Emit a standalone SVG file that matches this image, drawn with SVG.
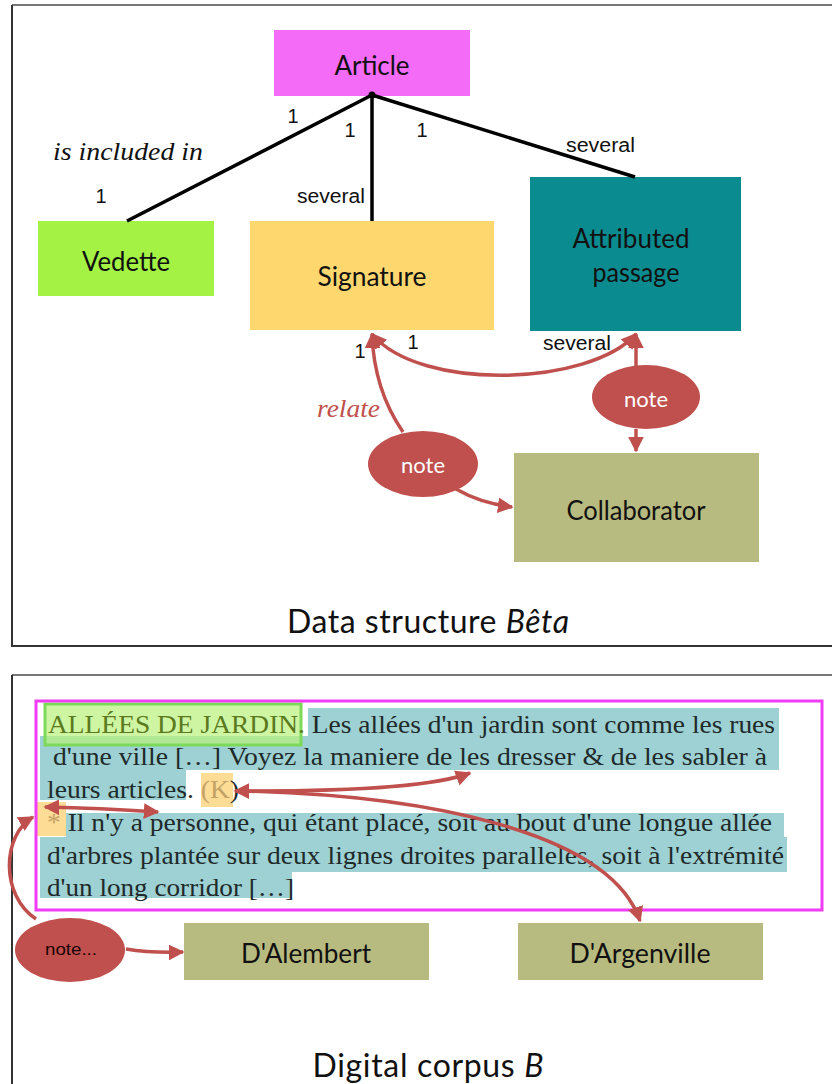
<svg xmlns="http://www.w3.org/2000/svg" width="832" height="1084" viewBox="0 0 832 1084">
<defs>
<marker id="ah" viewBox="0 0 10 10" refX="9" refY="5" markerWidth="4.5" markerHeight="4.5" orient="auto-start-reverse" markerUnits="strokeWidth">
<path d="M0,0 L10,5 L0,10 Z" fill="#c0504d"/>
</marker>
<style>
.frame{fill:none;stroke:#333;stroke-width:2}
.box{stroke:none}
.lbl{font-family:Lato,"Open Sans","Liberation Sans",sans-serif;font-size:26px;fill:#111;text-anchor:middle}
.sm{font-family:"Liberation Sans",Arial,sans-serif;font-size:20px;fill:#111}
.it{font-family:"Liberation Serif","Times New Roman",serif;font-style:italic;font-size:26px}
.blk{fill:none;stroke:#000;stroke-width:3.5}
.red{fill:none;stroke:#c0504d;stroke-width:3.5}
.note{fill:#c0504d}
.body{font-family:"Liberation Serif","Times New Roman",serif;font-size:25px;fill:#1f2a2a}
.teal{fill:#9dd1d3}
.org{fill:#fddc95}
.tan{fill:#c4a266}
.cap{font-family:Lato,"Open Sans","Liberation Sans",sans-serif;font-size:32px;fill:#111;text-anchor:middle}
</style>
</defs>
<rect width="832" height="1084" fill="#fff"/>

<!-- frames -->
<g id="frames">
<path d="M12,5 H832" stroke="#777" stroke-width="2"/>
<path d="M12,5 V646 H832" class="frame"/>
<path d="M12,675 H832" stroke="#777" stroke-width="2"/>
<path d="M12,675 V1084" class="frame"/>
</g>

<!-- top panel nodes -->
<g id="article"><rect class="box" x="274" y="30" width="196" height="66" fill="#f36bf6"/><text class="lbl" x="372" y="75" textLength="75" lengthAdjust="spacingAndGlyphs">Article</text></g>
<g id="vedette"><rect class="box" x="38" y="221" width="176" height="75" fill="#a3f244"/><text class="lbl" x="126" y="271" textLength="88" lengthAdjust="spacingAndGlyphs">Vedette</text></g>
<g id="signature"><rect class="box" x="250" y="221" width="244" height="109" fill="#fed86f"/><text class="lbl" x="372" y="286" textLength="109" lengthAdjust="spacingAndGlyphs">Signature</text></g>
<g id="attributed"><rect class="box" x="530" y="177" width="211" height="154" fill="#0a8b8f"/><text class="lbl" x="631" y="248" textLength="117" lengthAdjust="spacingAndGlyphs">Attributed</text><text class="lbl" x="636" y="282" textLength="87" lengthAdjust="spacingAndGlyphs">passage</text></g>
<g id="collaborator"><rect class="box" x="514" y="453" width="245" height="109" fill="#b8bb80"/><text class="lbl" x="636" y="520" textLength="139" lengthAdjust="spacingAndGlyphs">Collaborator</text></g>
<g id="note1"><ellipse class="note" cx="646" cy="397" rx="54" ry="32"/><text class="lbl" x="646" y="407" style="fill:#fff;font-size:22px" textLength="44" lengthAdjust="spacingAndGlyphs">note</text></g>
<g id="note2"><ellipse class="note" cx="423" cy="464" rx="55" ry="33"/><text class="lbl" x="423" y="473" style="fill:#fff;font-size:22px" textLength="44" lengthAdjust="spacingAndGlyphs">note</text></g>

<!-- bottom panel -->
<g id="passage-text">
<rect class="teal" x="308" y="708" width="471" height="28"/>
<rect class="teal" x="40" y="736" width="739" height="34"/>
<rect class="teal" x="40" y="770" width="146" height="30"/>
<rect class="teal" x="66" y="813" width="718" height="24"/>
<rect class="teal" x="40" y="837" width="747" height="35"/>
<rect class="teal" x="40" y="872" width="252" height="26"/>
<rect class="org" x="201" y="773" width="32" height="34"/>
<rect class="org" x="35" y="802" width="31" height="34"/>
<rect x="45" y="704" width="256" height="41" fill="#b9f27a" fill-opacity="0.7" stroke="#7dd95a" stroke-width="3"/>
<text class="body" x="48" y="733" textLength="727" lengthAdjust="spacingAndGlyphs"><tspan fill="#5b7a20">ALLÉES DE JARDIN.</tspan> Les allées d'un jardin sont comme les rues</text>
<text class="body" x="53" y="765" textLength="714" lengthAdjust="spacingAndGlyphs">d'une ville […] Voyez la maniere de les dresser &amp; de les sabler à</text>
<text class="body" x="47" y="798" textLength="192" lengthAdjust="spacingAndGlyphs">leurs articles. <tspan class="tan">(K</tspan>)</text>
<text class="body" x="47" y="831" textLength="725" lengthAdjust="spacingAndGlyphs"><tspan class="tan">*</tspan> Il n'y a personne, qui étant placé, soit au bout d'une longue allée</text>
<text class="body" x="47" y="864" textLength="737" lengthAdjust="spacingAndGlyphs">d'arbres plantée sur deux lignes droites paralleles, soit à l'extrémité</text>
<text class="body" x="47" y="896" textLength="247" lengthAdjust="spacingAndGlyphs">d'un long corridor […]</text>
<rect x="36" y="701" width="786" height="209" fill="none" stroke="#f03cf5" stroke-width="3"/>
</g>
<g id="dalembert"><rect class="box" x="184" y="923" width="245" height="57" fill="#b8bb80"/><text class="lbl" x="306" y="963" textLength="130" lengthAdjust="spacingAndGlyphs">D'Alembert</text></g>
<g id="dargenville"><rect class="box" x="518" y="923" width="245" height="57" fill="#b8bb80"/><text class="lbl" x="640" y="963" textLength="141" lengthAdjust="spacingAndGlyphs">D'Argenville</text></g>
<g id="note3"><ellipse class="note" cx="70" cy="950" rx="55" ry="32"/><text class="sm" x="71" y="955" text-anchor="middle" style="font-size:17px;fill:#1a0505" textLength="52" lengthAdjust="spacingAndGlyphs">note...</text></g>

<!-- connectors -->
<g id="connectors">
<path class="blk" d="M372,95 L127,221"/>
<path class="blk" d="M372,95 L372,221"/>
<path class="blk" d="M372,95 L635,177"/>
<circle cx="372" cy="95" r="3.5" fill="#000"/>
<path class="red" d="M372,334 C420,392 590,386 636,334" marker-start="url(#ah)" marker-end="url(#ah)"/>
<path class="red" d="M636,366 L636,334" marker-end="url(#ah)"/>
<path class="red" d="M636,429 L636,451" marker-end="url(#ah)"/>
<path class="red" d="M403,432 Q374,390 372,334" marker-end="url(#ah)"/>
<path class="red" d="M456,489 Q480,503 512,507" marker-end="url(#ah)"/>
<path class="red" d="M235,791 Q420,792 470,773" marker-start="url(#ah)" marker-end="url(#ah)"/>
<path class="red" d="M45,807 Q100,808 158,812" marker-start="url(#ah)" marker-end="url(#ah)"/>
<path class="red" d="M240,791 C420,795 610,830 640,921" marker-end="url(#ah)"/>
<path class="red" d="M36,919 C0,895 2,835 33,817" marker-end="url(#ah)"/>
<path class="red" d="M126,949 Q150,953 183,952" marker-end="url(#ah)"/>
</g>

<!-- labels -->
<g id="labels">
<text class="sm" x="293" y="123" text-anchor="middle">1</text>
<text class="sm" x="350" y="137" text-anchor="middle">1</text>
<text class="sm" x="422" y="137" text-anchor="middle">1</text>
<text class="sm" x="566" y="152" textLength="69" lengthAdjust="spacingAndGlyphs">several</text>
<text class="it" x="53" y="160" fill="#111" textLength="150" lengthAdjust="spacingAndGlyphs">is included in</text>
<text class="sm" x="101" y="203" text-anchor="middle">1</text>
<text class="sm" x="297" y="203" textLength="68" lengthAdjust="spacingAndGlyphs">several</text>
<text class="sm" x="360" y="358" text-anchor="middle">1</text>
<text class="sm" x="413" y="349" text-anchor="middle">1</text>
<text class="sm" x="543" y="350" textLength="68" lengthAdjust="spacingAndGlyphs">several</text>
<text class="it" x="317" y="417" fill="#c0504d" textLength="63" lengthAdjust="spacingAndGlyphs">relate</text>
<text class="cap" x="428" y="633" textLength="282">Data structure <tspan font-style="italic">Bêta</tspan></text>
<text class="cap" x="428" y="1077" textLength="231">Digital corpus <tspan font-style="italic">B</tspan></text>
</g>
</svg>
